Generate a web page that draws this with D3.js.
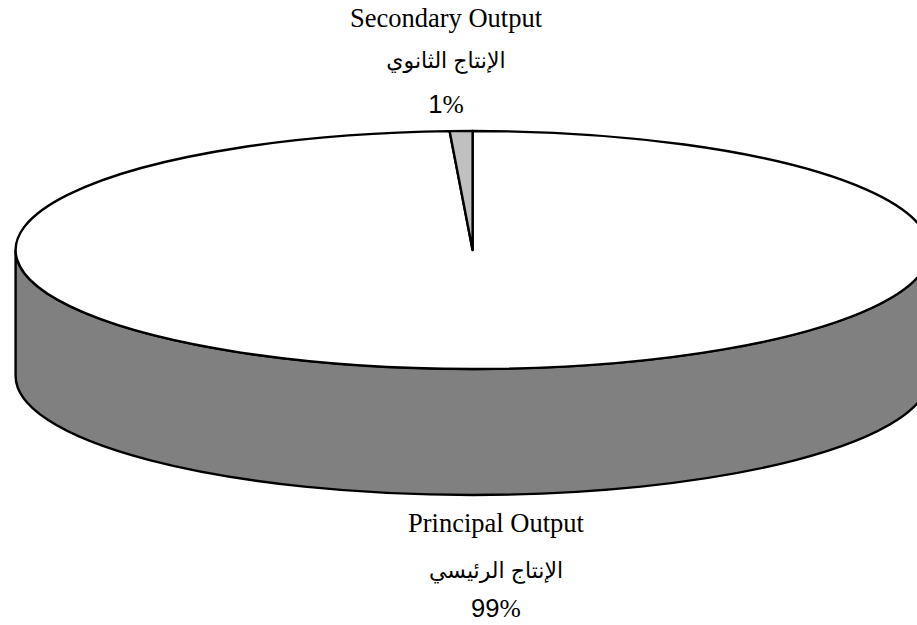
<!DOCTYPE html>
<html>
<head>
<meta charset="utf-8">
<script src="https://cdnjs.cloudflare.com/ajax/libs/d3/7.8.5/d3.min.js"></script>
<style>
body { margin: 0; background: #fff; }
svg { display: block; }
.en { font-family: "Liberation Serif", serif; font-size: 26.5px; }
.ar { font-family: "Liberation Sans", "DejaVu Sans", sans-serif; font-size: 22px; }
.num { font-family: "Liberation Sans", sans-serif; font-size: 25.6px; }
.pct { font-family: "Liberation Serif", serif; font-size: 25.6px; }
</style>
</head>
<body>
<svg width="917" height="625"></svg>
<script>
const categories = ['Principal Output', 'Secondary Output'];
const arabicNames = ['الإنتاج الرئيسي', 'الإنتاج الثانوي'];
const values = [99.2, 0.8];
const colors = ['#ffffff', '#c0c0c0'];

const cx = 472.6;
const cy = 250;
const rx = 457;
const ry = 119;
const depth = 126;

const svg = d3.select('svg');

// pie runs clockwise from 12 o'clock, secondary slice ends back at the top
const pie = d3.pie().sort(null).value((d) => d);
const slices = pie(values);

const px = (a) => cx + rx * Math.sin(a);
const py = (a) => cy - ry * Math.cos(a);

// side wall, front half of the ellipse
svg.append('path')
    .attr('d', `M${cx - rx},${cy} L${cx - rx},${cy + depth} A${rx},${ry} 0 0 0 ${cx + rx},${cy + depth} L${cx + rx},${cy} A${rx},${ry} 0 0 1 ${cx - rx},${cy} Z`)
    .attr('fill', '#808080')
    .attr('stroke', '#000')
    .attr('stroke-width', 2.4);

// top face
svg.selectAll('.slice')
    .data(slices)
    .enter()
    .append('path')
    .attr('class', 'slice')
    .attr('d', (d) => {
        const large = d.endAngle - d.startAngle > Math.PI ? 1 : 0;
        return `M${cx},${cy} L${px(d.startAngle)},${py(d.startAngle)} A${rx},${ry} 0 ${large} 1 ${px(d.endAngle)},${py(d.endAngle)} Z`;
    })
    .attr('fill', (d, i) => colors[i])
    .attr('stroke', '#000')
    .attr('stroke-width', 2.4)
    .attr('stroke-linejoin', 'round');

const labelPos = [
    { x: 496, y: [532, 578, 617] },
    { x: 446, y: [27, 68, 113] },
];

const labels = svg.selectAll('.label')
    .data(categories)
    .enter()
    .append('g')
    .attr('class', 'label')
    .attr('text-anchor', 'middle');

labels.append('text')
    .attr('class', 'en')
    .attr('x', (d, i) => labelPos[i].x)
    .attr('y', (d, i) => labelPos[i].y[0])
    .text((d) => d);

labels.append('text')
    .attr('class', 'ar')
    .attr('x', (d, i) => labelPos[i].x)
    .attr('y', (d, i) => labelPos[i].y[1])
    .attr('direction', 'rtl')
    .text((d, i) => arabicNames[i]);

const pctText = labels.append('text')
    .attr('x', (d, i) => labelPos[i].x)
    .attr('y', (d, i) => labelPos[i].y[2]);

pctText.append('tspan')
    .attr('class', 'num')
    .text((d, i) => Math.round(values[i]));

pctText.append('tspan')
    .attr('class', 'pct')
    .text('%');
</script>
</body>
</html>
